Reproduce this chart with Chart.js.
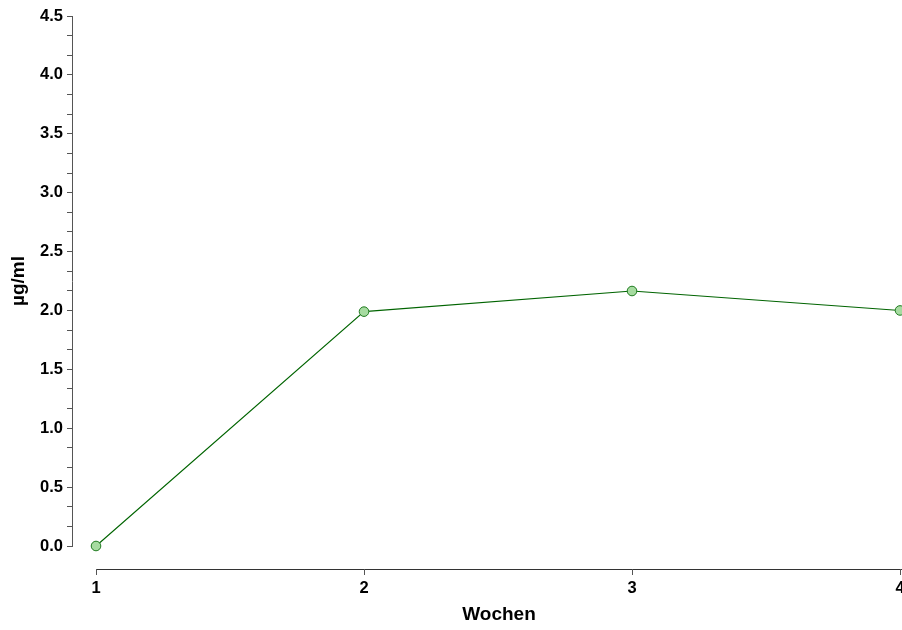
<!DOCTYPE html>
<html>
<head>
<meta charset="utf-8">
<style>
  html, body { margin: 0; padding: 0; background: #fff; }
  #wrap { width: 902px; height: 630px; }
</style>
<script src="https://cdn.jsdelivr.net/npm/chart.js@4"></script>
</head>
<body>
<div id="wrap"><canvas id="lineChart"></canvas></div>
<script>
// data
const weeks = [1, 2, 3, 4];
const values = [0.0, 1.99, 2.165, 2.0];
const xTicks = [1, 2, 3, 4];
const yMin = 0;
const yMax = 4.5;
const yMajorStep = 0.5;
const xTitle = "Wochen";
const yTitle = "µg/ml";

const axisColor = "#555";
const fontFamily = "Liberation Sans, Arial, sans-serif";
const tickFont = { family: fontFamily, size: 16.5, weight: "bold" };
const titleFont = { family: fontFamily, size: 19, weight: "bold" };

// x axis sits below the plot and starts at the first week,
// its title is centred on that shorter line
const offsetXAxis = {
  id: "offsetXAxis",
  afterDraw(chart) {
    const ctx = chart.ctx;
    const x = chart.scales.x;
    const y0 = chart.chartArea.bottom + 23;
    const x0 = x.getPixelForValue(xTicks[0]);
    ctx.save();
    ctx.strokeStyle = "#333";
    ctx.lineWidth = 1;
    ctx.beginPath();
    ctx.moveTo(x0, y0 + 0.5);
    ctx.lineTo(chart.width, y0 + 0.5);
    ctx.stroke();
    ctx.strokeStyle = axisColor;
    xTicks.forEach(t => {
      const px = Math.round(x.getPixelForValue(t)) + 0.5;
      ctx.beginPath();
      ctx.moveTo(px, y0);
      ctx.lineTo(px, y0 + 6);
      ctx.stroke();
    });
    ctx.fillStyle = "#000";
    ctx.font = "bold " + titleFont.size + "px " + fontFamily;
    ctx.textAlign = "center";
    ctx.textBaseline = "middle";
    ctx.fillText(xTitle, (x0 + chart.width) / 2, 615);
    ctx.restore();
  }
};

new Chart(document.getElementById("lineChart"), {
  type: "line",
  data: {
    datasets: [{
      data: weeks.map((w, i) => ({ x: w, y: values[i] })),
      borderColor: "#006400",
      borderWidth: 1.1,
      pointBackgroundColor: "#a6dba0",
      pointBorderColor: "#1f7a1f",
      pointBorderWidth: 1,
      pointRadius: 4.8,
      clip: false,
      tension: 0
    }]
  },
  options: {
    responsive: true,
    maintainAspectRatio: false,
    animation: false,
    layout: { autoPadding: false, padding: { top: 16, right: 2, left: 0, bottom: 0 } },
    plugins: {
      legend: { display: false },
      tooltip: { enabled: false }
    },
    scales: {
      x: {
        type: "linear",
        min: 0.9104,
        max: 4,
        grid: { display: false, drawTicks: false, tickLength: 0 },
        border: { display: false },
        afterBuildTicks: s => { s.ticks = xTicks.map(v => ({ value: v })); },
        afterFit: s => { s.height = 84; s.paddingLeft = 0; s.paddingRight = 0; },
        ticks: {
          color: "#000",
          font: tickFont,
          padding: 33,
          maxRotation: 0,
          autoSkip: false,
          callback: v => String(v)
        },
        title: { display: false }
      },
      y: {
        min: yMin,
        max: yMax,
        afterFit: s => { s.width = 72; },
        grid: {
          display: true,
          drawOnChartArea: false,
          drawTicks: true,
          tickLength: 5,
          color: axisColor
        },
        border: { display: true, color: axisColor, width: 1 },
        ticks: {
          stepSize: yMajorStep / 3,
          autoSkip: false,
          color: "#000",
          font: tickFont,
          padding: 4,
          callback: v => {
            const k = v / yMajorStep;
            return Math.abs(k - Math.round(k)) < 1e-6 ? (Math.round(k) * yMajorStep).toFixed(1) : "";
          }
        },
        title: {
          display: true,
          text: yTitle,
          color: "#000",
          font: titleFont,
          padding: { top: 7, bottom: 0 }
        }
      }
    }
  },
  plugins: [offsetXAxis]
});
</script>
</body>
</html>
